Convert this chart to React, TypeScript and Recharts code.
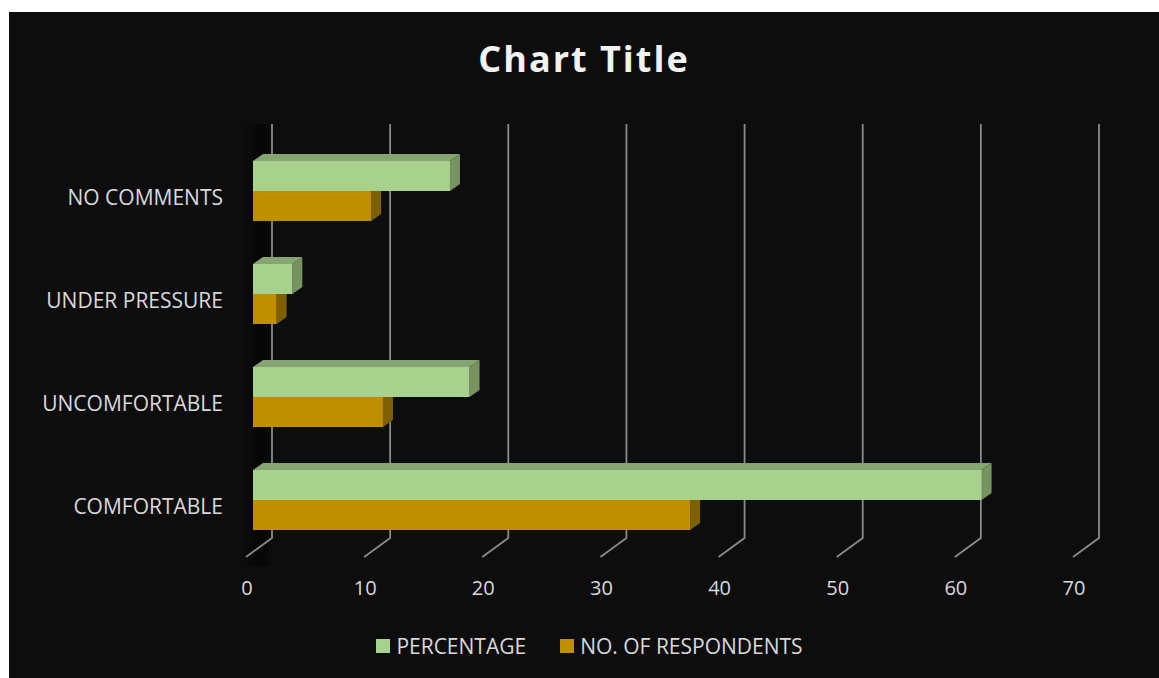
import React from "react";
import { BarChart, Bar, XAxis, YAxis, CartesianGrid, Legend } from "recharts";

// Survey: how respondents feel (60 respondents in total)
const categories = ["NO COMMENTS", "UNDER PRESSURE", "UNCOMFORTABLE", "COMFORTABLE"];
const percentage = [16.67, 3.33, 18.33, 61.67];
const respondents = [10, 2, 11, 37];
const xTicks = [0, 10, 20, 30, 40, 50, 60, 70];

const data = categories.map((name, i) => ({
  name,
  percentage: percentage[i],
  respondents: respondents[i],
}));

const FONT = "'Open Sans', 'Noto Sans', sans-serif";
const TEXT = "#d9d9d9";
const DX = 10; // 3d depth offsets
const DY = 7;

// front face + top + right side, like excel's 3-D clustered bar
function Box3D(props: any, colors: { front: string; top: string; side: string }, covered: boolean) {
  const { x, y, width, height } = props;
  if (!width || width <= 0) return <g />;
  const r = x + width;
  const top = `${x},${y} ${x + DX},${y - DY} ${r + DX},${y - DY} ${r},${y}`;
  const side = covered
    ? `${r},${y} ${r + DX},${y} ${r + DX},${y + height - DY} ${r},${y + height}`
    : `${r},${y} ${r + DX},${y - DY} ${r + DX},${y + height - DY} ${r},${y + height}`;
  return (
    <g>
      {!covered && <polygon points={top} fill={colors.top} />}
      <polygon points={side} fill={colors.side} />
      <rect x={x} y={y} width={width} height={height} fill={colors.front} />
    </g>
  );
}

const greenShape = (p: any) => Box3D(p, { front: "#a9d18e", top: "#87a572", side: "#779360" }, false);
const goldShape = (p: any) => Box3D(p, { front: "#bf8f00", top: "#9a7300", side: "#7f6000" }, true);

// back-wall gridline with the floor diagonal
const gridLine = (p: any) => {
  const x = p.x1;
  const d = `M${x - 7},545 L${x + 19},526 L${x + 19},112`;
  return <path key={p.key} d={d} fill="none" stroke="#8a8a8a" strokeWidth={1.8} />;
};

const CatTick = (p: any) => (
  <text x={p.x} y={p.y + 7} dy="0.35em" textAnchor="end" fill={TEXT} fontSize={21} fontFamily={FONT}>
    {p.payload.value}
  </text>
);

const NumTick = (p: any) => (
  <text x={p.x - 6} y={p.y + 37} dy="0.35em" textAnchor="middle" fill={TEXT} fontSize={20} fontFamily={FONT}>
    {p.payload.value}
  </text>
);

const legendItems = [
  { label: "PERCENTAGE", color: "#a9d18e" },
  { label: "NO. OF RESPONDENTS", color: "#bf8f00" },
];

const LegendBox = () => (
  <div style={{ display: "flex", justifyContent: "center", paddingLeft: 11, fontFamily: FONT, fontSize: 21, color: TEXT, lineHeight: "28px" }}>
    {legendItems.map((it, i) => (
      <div key={it.label} style={{ display: "flex", alignItems: "center", marginRight: i === 0 ? 34 : 0 }}>
        <span style={{ width: 14, height: 14, background: it.color, marginRight: 6, display: "inline-block" }} />
        {it.label}
      </div>
    ))}
  </div>
);

export default function App() {
  return (
    <div style={{ position: "absolute", left: 9, top: 12, width: 1150, height: 666, background: "#0d0d0d" }}>
      <div
        style={{
          position: "absolute",
          left: 232,
          top: 112,
          width: 34,
          height: 442,
          background: "linear-gradient(to right, rgba(0,0,0,0), rgba(0,0,0,0.55) 60%, rgba(0,0,0,0))",
        }}
      />
      <div
        style={{
          position: "absolute",
          left: 0,
          top: 29,
          width: 1150,
          textAlign: "center",
          fontFamily: FONT,
          fontWeight: 700,
          fontSize: 36,
          letterSpacing: 2,
          lineHeight: "36px",
          color: "#f2f2f2",
        }}
      >
        Chart Title
      </div>
      <div style={{ position: "absolute", left: 0, top: 0 }}>
        <BarChart
          width={1150}
          height={666}
          data={data}
          layout="vertical"
          margin={{ top: 127, right: 79, bottom: 0, left: 0 }}
          barCategoryGap={22}
          barGap={0}
        >
          <CartesianGrid horizontal={false} vertical={gridLine} />
          <XAxis
            type="number"
            domain={[0, 70]}
            ticks={xTicks}
            height={127}
            tickSize={0}
            tickMargin={0}
            axisLine={false}
            tickLine={false}
            tick={<NumTick />}
          />
          <YAxis
            type="category"
            dataKey="name"
            width={244}
            tickSize={0}
            tickMargin={30}
            axisLine={false}
            tickLine={false}
            tick={<CatTick />}
          />
          <Legend verticalAlign="middle" align="center" wrapperStyle={{ top: 620, left: 0, width: 1150 }} content={<LegendBox />} />
          <Bar dataKey="percentage" name="PERCENTAGE" fill="#a9d18e" shape={greenShape} isAnimationActive={false} />
          <Bar dataKey="respondents" name="NO. OF RESPONDENTS" fill="#bf8f00" shape={goldShape} isAnimationActive={false} />
        </BarChart>
      </div>
    </div>
  );
}
